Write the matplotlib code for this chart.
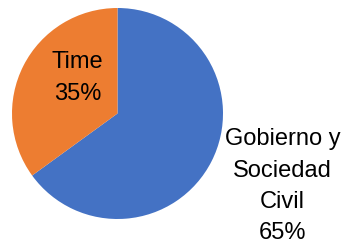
import matplotlib
matplotlib.use("Agg")
import matplotlib.pyplot as plt

categories = ["Gobierno y\nSociedad\nCivil", "Time"]
shares = [65, 35]
colors = ["#4472C4", "#ED7D31"]

plt.rcParams['font.family'] = ['Liberation Sans', 'DejaVu Sans']

fig = plt.figure(figsize=(3.44, 2.48), dpi=100)
# pie centre at about (117.5, 113.5) px, radius ~105.5 px
ax = fig.add_axes([12 / 344, 29 / 248, 211 / 344, 211 / 248])

labels = [f"{c}\n{v}%" for c, v in zip(categories, shares)]
wedges, texts = ax.pie(shares, colors=colors, startangle=90, counterclock=False,
                       radius=1, labels=labels, labeldistance=1.1,
                       wedgeprops=dict(linewidth=0),
                       textprops=dict(fontsize=17, linespacing=1.55))
ax.set_xlim(-1, 1)
ax.set_ylim(-1, 1)
ax.set_aspect('equal')
ax.axis('off')

# place labels like the original (one outside, one inside)
texts[0].set_position((1.565, -0.69))
texts[1].set_position((-0.379, 0.336))
for t in texts:
    t.set_ha('center')
    t.set_va('center')
    t.set_clip_on(False)

fig.savefig("out.png", dpi=100)
